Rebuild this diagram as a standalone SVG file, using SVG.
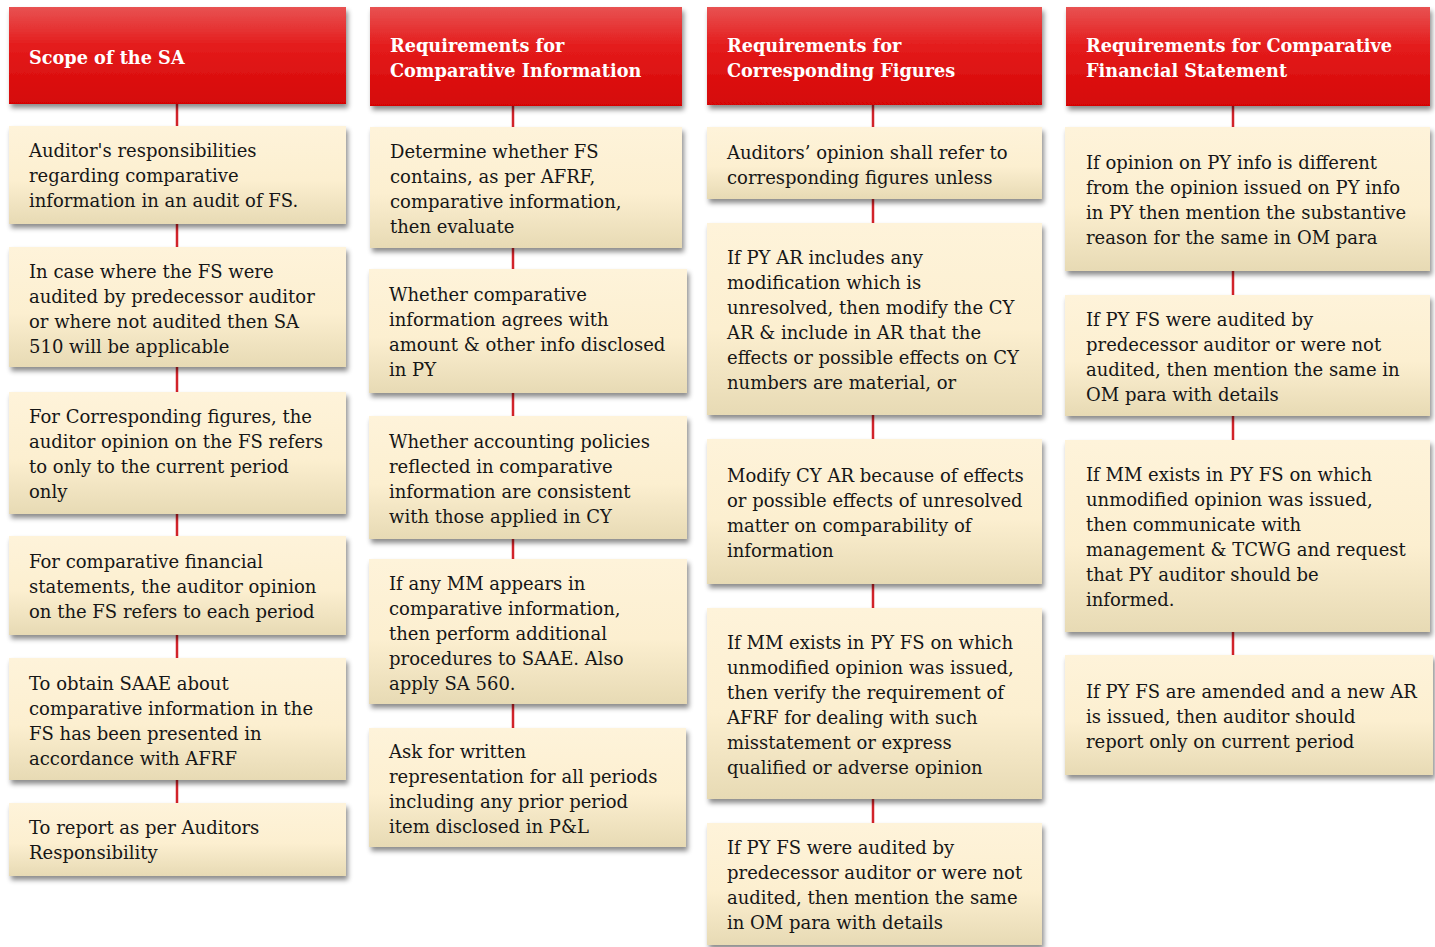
<svg xmlns="http://www.w3.org/2000/svg" width="1435" height="947" viewBox="0 0 1435 947">
  <defs>
    <linearGradient id="gHead" x1="0" y1="0" x2="0" y2="1">
      <stop offset="0" stop-color="#e85252"/>
      <stop offset="0.4" stop-color="#e41c1c"/>
      <stop offset="1" stop-color="#d50606"/>
    </linearGradient>
    <linearGradient id="gBody" x1="0" y1="0" x2="0" y2="1">
      <stop offset="0" stop-color="#fef3da"/>
      <stop offset="0.55" stop-color="#fcefd0"/>
      <stop offset="1" stop-color="#e7dab4"/>
    </linearGradient>
    <filter id="shadow" x="-5%" y="-10%" width="115%" height="130%">
      <feDropShadow dx="2" dy="4" stdDeviation="2.5" flood-color="#000" flood-opacity="0.45"/>
    </filter>
  </defs>
  <style>
    .head { fill: url(#gHead); filter: url(#shadow); }
    .box { fill: url(#gBody); filter: url(#shadow); }
    .ht { font-family: "DejaVu Serif", "Liberation Serif", serif; font-weight: bold; font-size: 17.7px; fill: #ffffff; }
    .bt { font-family: "DejaVu Serif", "Liberation Serif", serif; font-size: 18px; fill: #161616; }
    .link { stroke: #d2232a; stroke-width: 2.5; fill: none; }
  </style>
  <rect width="1435" height="947" fill="#ffffff"/>

  <!-- vertical links between stacked boxes -->
  <g id="connectors">
    <line class="link" x1="177" y1="104" x2="177" y2="126"/>
    <line class="link" x1="177" y1="224" x2="177" y2="247"/>
    <line class="link" x1="177" y1="367" x2="177" y2="392"/>
    <line class="link" x1="177" y1="514" x2="177" y2="536"/>
    <line class="link" x1="177" y1="635" x2="177" y2="658"/>
    <line class="link" x1="177" y1="780" x2="177" y2="803"/>

    <line class="link" x1="513" y1="106" x2="513" y2="127"/>
    <line class="link" x1="513" y1="248" x2="513" y2="269"/>
    <line class="link" x1="513" y1="393" x2="513" y2="416"/>
    <line class="link" x1="513" y1="539" x2="513" y2="559"/>
    <line class="link" x1="513" y1="704" x2="513" y2="728"/>

    <line class="link" x1="873" y1="105" x2="873" y2="127"/>
    <line class="link" x1="873" y1="199" x2="873" y2="223"/>
    <line class="link" x1="873" y1="415" x2="873" y2="439"/>
    <line class="link" x1="873" y1="584" x2="873" y2="608"/>
    <line class="link" x1="873" y1="799" x2="873" y2="823"/>

    <line class="link" x1="1233" y1="106" x2="1233" y2="127"/>
    <line class="link" x1="1233" y1="271" x2="1233" y2="295"/>
    <line class="link" x1="1233" y1="416" x2="1233" y2="440"/>
    <line class="link" x1="1233" y1="632" x2="1233" y2="655"/>
  </g>

  <!-- Column 1: Scope of the SA -->
  <g id="scope-head">
    <rect class="head" x="9" y="7" width="337" height="97"/>
    <text class="ht" x="29" y="64">Scope of the SA</text>
  </g>
  <g id="scope-1">
    <rect class="box" x="9" y="126" width="337" height="98"/>
    <text class="bt" x="29" y="157">Auditor's responsibilities<tspan x="29" y="182">regarding comparative</tspan><tspan x="29" y="207">information in an audit of FS.</tspan></text>
  </g>
  <g id="scope-2">
    <rect class="box" x="9" y="247" width="337" height="120"/>
    <text class="bt" x="29" y="277.5">In case where the FS were<tspan x="29" y="302.5">audited by predecessor auditor</tspan><tspan x="29" y="327.5">or where not audited then SA</tspan><tspan x="29" y="352.5">510 will be applicable</tspan></text>
  </g>
  <g id="scope-3">
    <rect class="box" x="9" y="392" width="337" height="122"/>
    <text class="bt" x="29" y="423">For Corresponding figures, the<tspan x="29" y="448">auditor opinion on the FS refers</tspan><tspan x="29" y="473">to only to the current period</tspan><tspan x="29" y="498">only</tspan></text>
  </g>
  <g id="scope-4">
    <rect class="box" x="9" y="536" width="337" height="99"/>
    <text class="bt" x="29" y="568">For comparative financial<tspan x="29" y="593">statements, the auditor opinion</tspan><tspan x="29" y="618">on the FS refers to each period</tspan></text>
  </g>
  <g id="scope-5">
    <rect class="box" x="9" y="658" width="337" height="122"/>
    <text class="bt" x="29" y="689.5">To obtain SAAE about<tspan x="29" y="714.5">comparative information in the</tspan><tspan x="29" y="739.5">FS has been presented in</tspan><tspan x="29" y="764.5">accordance with AFRF</tspan></text>
  </g>
  <g id="scope-6">
    <rect class="box" x="9" y="803" width="337" height="73"/>
    <text class="bt" x="29" y="833.5">To report as per Auditors<tspan x="29" y="858.5">Responsibility</tspan></text>
  </g>

  <!-- Column 2: Comparative Information -->
  <g id="ci-head">
    <rect class="head" x="370" y="7" width="312" height="99"/>
    <text class="ht" x="390" y="51.5">Requirements for<tspan x="390" y="76.5">Comparative Information</tspan></text>
  </g>
  <g id="ci-1">
    <rect class="box" x="370" y="127" width="312" height="121"/>
    <text class="bt" x="390" y="157.5">Determine whether FS<tspan x="390" y="182.5">contains, as per AFRF,</tspan><tspan x="390" y="207.5">comparative information,</tspan><tspan x="390" y="232.5">then evaluate</tspan></text>
  </g>
  <g id="ci-2">
    <rect class="box" x="369" y="269" width="318" height="124"/>
    <text class="bt" x="389" y="300.5">Whether comparative<tspan x="389" y="325.5">information agrees with</tspan><tspan x="389" y="350.5">amount &amp; other info disclosed</tspan><tspan x="389" y="375.5">in PY</tspan></text>
  </g>
  <g id="ci-3">
    <rect class="box" x="369" y="416" width="318" height="123"/>
    <text class="bt" x="389" y="448">Whether accounting policies<tspan x="389" y="473">reflected in comparative</tspan><tspan x="389" y="498">information are consistent</tspan><tspan x="389" y="523">with those applied in CY</tspan></text>
  </g>
  <g id="ci-4">
    <rect class="box" x="369" y="559" width="318" height="145"/>
    <text class="bt" x="389" y="589.5">If any MM appears in<tspan x="389" y="614.5">comparative information,</tspan><tspan x="389" y="639.5">then perform additional</tspan><tspan x="389" y="664.5">procedures to SAAE. Also</tspan><tspan x="389" y="689.5">apply SA 560.</tspan></text>
  </g>
  <g id="ci-5">
    <rect class="box" x="369" y="728" width="317" height="119"/>
    <text class="bt" x="389" y="758">Ask for written<tspan x="389" y="783">representation for all periods</tspan><tspan x="389" y="808">including any prior period</tspan><tspan x="389" y="833">item disclosed in P&amp;L</tspan></text>
  </g>

  <!-- Column 3: Corresponding Figures -->
  <g id="cf-head">
    <rect class="head" x="707" y="7" width="335" height="98"/>
    <text class="ht" x="727" y="51.5">Requirements for<tspan x="727" y="76.5">Corresponding Figures</tspan></text>
  </g>
  <g id="cf-1">
    <rect class="box" x="707" y="127" width="335" height="72"/>
    <text class="bt" x="727" y="159">Auditors’ opinion shall refer to<tspan x="727" y="184">corresponding figures unless</tspan></text>
  </g>
  <g id="cf-2">
    <rect class="box" x="707" y="223" width="335" height="192"/>
    <text class="bt" x="727" y="264">If PY AR includes any<tspan x="727" y="289">modification which is</tspan><tspan x="727" y="314">unresolved, then modify the CY</tspan><tspan x="727" y="339">AR &amp; include in AR that the</tspan><tspan x="727" y="364">effects or possible effects on CY</tspan><tspan x="727" y="389">numbers are material, or</tspan></text>
  </g>
  <g id="cf-3">
    <rect class="box" x="707" y="439" width="335" height="145"/>
    <text class="bt" x="727" y="481.5">Modify CY AR because of effects<tspan x="727" y="506.5">or possible effects of unresolved</tspan><tspan x="727" y="531.5">matter on comparability of</tspan><tspan x="727" y="556.5">information</tspan></text>
  </g>
  <g id="cf-4">
    <rect class="box" x="707" y="608" width="335" height="191"/>
    <text class="bt" x="727" y="648.5">If MM exists in PY FS on which<tspan x="727" y="673.5">unmodified opinion was issued,</tspan><tspan x="727" y="698.5">then verify the requirement of</tspan><tspan x="727" y="723.5">AFRF for dealing with such</tspan><tspan x="727" y="748.5">misstatement or express</tspan><tspan x="727" y="773.5">qualified or adverse opinion</tspan></text>
  </g>
  <g id="cf-5">
    <rect class="box" x="707" y="823" width="335" height="122"/>
    <text class="bt" x="727" y="853.5">If PY FS were audited by<tspan x="727" y="878.5">predecessor auditor or were not</tspan><tspan x="727" y="903.5">audited, then mention the same</tspan><tspan x="727" y="928.5">in OM para with details</tspan></text>
  </g>

  <!-- Column 4: Comparative Financial Statement -->
  <g id="cfs-head">
    <rect class="head" x="1066" y="7" width="364" height="99"/>
    <text class="ht" x="1086" y="51.5">Requirements for Comparative<tspan x="1086" y="76.5">Financial Statement</tspan></text>
  </g>
  <g id="cfs-1">
    <rect class="box" x="1065" y="127" width="365" height="144"/>
    <text class="bt" x="1086" y="168.5">If opinion on PY info is different<tspan x="1086" y="193.5">from the opinion issued on PY info</tspan><tspan x="1086" y="218.5">in PY then mention the substantive</tspan><tspan x="1086" y="243.5">reason for the same in OM para</tspan></text>
  </g>
  <g id="cfs-2">
    <rect class="box" x="1065" y="295" width="365" height="121"/>
    <text class="bt" x="1086" y="325.5">If PY FS were audited by<tspan x="1086" y="350.5">predecessor auditor or were not</tspan><tspan x="1086" y="375.5">audited, then mention the same in</tspan><tspan x="1086" y="400.5">OM para with details</tspan></text>
  </g>
  <g id="cfs-3">
    <rect class="box" x="1065" y="440" width="365" height="192"/>
    <text class="bt" x="1086" y="481">If MM exists in PY FS on which<tspan x="1086" y="506">unmodified opinion was issued,</tspan><tspan x="1086" y="531">then communicate with</tspan><tspan x="1086" y="556">management &amp; TCWG and request</tspan><tspan x="1086" y="581">that PY auditor should be</tspan><tspan x="1086" y="606">informed.</tspan></text>
  </g>
  <g id="cfs-4">
    <rect class="box" x="1065" y="655" width="368" height="120"/>
    <text class="bt" x="1086" y="698">If PY FS are amended and a new AR<tspan x="1086" y="723">is issued, then auditor should</tspan><tspan x="1086" y="748">report only on current period</tspan></text>
  </g>
</svg>
